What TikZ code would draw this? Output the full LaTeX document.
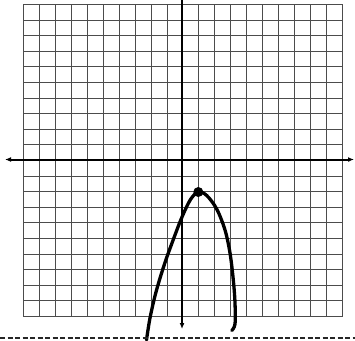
\documentclass[tikz,border=0pt]{standalone}
\usetikzlibrary{arrows.meta}
\begin{document}
\begin{tikzpicture}[x=1pt,y=-1pt,
  gridline/.style={draw=black!70,line width=1pt},
  axisline/.style={draw=black,line width=2pt},
  curveline/.style={draw=black,line width=3.3pt,line cap=round,line join=round},
  bottomdash/.style={draw=black!85,line width=1.8pt,dash pattern=on 5pt off 2.5pt}]
\useasboundingbox (0,0) rectangle (355,340);
% grid
\foreach \k in {0,...,20}{
  \pgfmathsetmacro{\gx}{int(round(23+15.95*\k))+0.5}
  \pgfmathsetmacro{\gy}{int(round(4+15.6*\k))+0.5}
  \draw[gridline] (\gx,4) -- (\gx,316.5);
  \draw[gridline] (23,\gy) -- (342.5,\gy);
}
% axes
\coordinate (xl) at (5,159.5);
\coordinate (xr) at (354,159.5);
\coordinate (yt) at (182,0);
\coordinate (yb) at (182,329);
\draw[axisline,{Latex[length=6pt,width=5pt]}-{Latex[length=6pt,width=5pt]}] (xl) -- (xr);
\draw[axisline,-{Latex[length=6pt,width=5pt]}] (yt) -- (yb);
% parabola
\draw[curveline] plot[smooth,tension=0.55] coordinates {
  (146.5,340) (150,318) (156,292) (164.5,264) (173.5,239) (182,217) (190.5,199.5) (198.3,192)
  (206.7,195.5) (216.7,209) (225,230) (230,253) (233.3,280) (235,303) (235,324) (231.7,330.5)};
\node[circle,fill=black,inner sep=0pt,minimum size=10pt] (vertex) at (198.3,192) {};
% bottom dashed edge
\coordinate (dl) at (0,338);
\coordinate (dr) at (355,338);
\draw[bottomdash] (dl) -- (dr);
\end{tikzpicture}
\end{document}
